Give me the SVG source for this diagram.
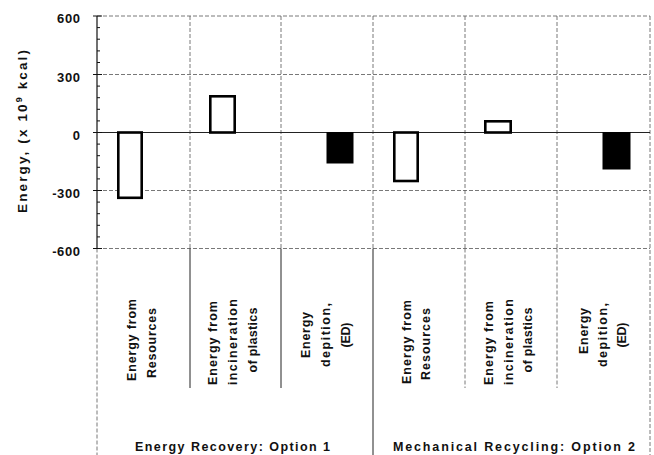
<svg xmlns="http://www.w3.org/2000/svg" width="654" height="455" viewBox="0 0 654 455">
<style>
  .bg{fill:#fff}
  .grid{stroke:#555;stroke-width:0.8;stroke-dasharray:4 2;fill:none}
  .solid{stroke:#222;stroke-width:1;fill:none}
  .axis{stroke:#111;stroke-width:1.2;fill:none}
  .tick{stroke:#111;stroke-width:1}
  .bar{fill:#fff;stroke:#000;stroke-width:2.6}
  .barf{fill:#000;stroke:#000;stroke-width:1}
  text{font-family:"Liberation Sans",Arial,sans-serif;fill:#111;font-weight:bold}
  .yl{font-size:13px;text-anchor:end;letter-spacing:0.6px}
  .cat{font-size:12.5px;text-anchor:middle}
  .grp{font-size:12.5px;text-anchor:middle}
</style>
<rect class="bg" x="0" y="0" width="654" height="455"/>

<g id="grid">
  <line class="grid" x1="97" y1="16" x2="650" y2="16"/>
  <line class="grid" x1="97" y1="74.5" x2="650" y2="74.5"/>
  <line class="grid" x1="97" y1="190.5" x2="650" y2="190.5"/>
  <line class="grid" x1="97" y1="248.5" x2="650" y2="248.5"/>
  <line class="grid" x1="190" y1="16" x2="190" y2="248.5"/>
  <line class="grid" x1="281" y1="16" x2="281" y2="248.5"/>
  <line class="grid" x1="373" y1="16" x2="373" y2="248.5"/>
  <line class="grid" x1="465" y1="16" x2="465" y2="248.5"/>
  <line class="grid" x1="557" y1="16" x2="557" y2="248.5"/>
  <line class="grid" x1="650" y1="16" x2="650" y2="455"/>
  <line class="grid" x1="97" y1="248.5" x2="97" y2="455"/>
</g>

<g id="table-lines">
  <line class="solid" x1="190" y1="248.5" x2="190" y2="388"/>
  <line class="solid" x1="281" y1="248.5" x2="281" y2="388"/>
  <line class="solid" x1="373" y1="248.5" x2="373" y2="455"/>
  <line class="grid" x1="465" y1="248.5" x2="465" y2="388"/>
  <line class="grid" x1="557" y1="248.5" x2="557" y2="388"/>
</g>

<g id="y-axis">
  <line class="axis" x1="97" y1="16" x2="97" y2="248.5"/>
  <line class="solid" x1="97" y1="132.5" x2="650" y2="132.5"/>
  <g class="tick">
    <line x1="93" y1="16" x2="102" y2="16"/>
    <line x1="93" y1="74.5" x2="102" y2="74.5"/>
    <line x1="93" y1="132.5" x2="102" y2="132.5"/>
    <line x1="93" y1="190.5" x2="102" y2="190.5"/>
    <line x1="93" y1="248.5" x2="102" y2="248.5"/>
    <line x1="97" y1="27.6" x2="100" y2="27.6"/>
    <line x1="97" y1="39.2" x2="100" y2="39.2"/>
    <line x1="97" y1="50.9" x2="100" y2="50.9"/>
    <line x1="97" y1="62.5" x2="100" y2="62.5"/>
    <line x1="97" y1="86.1" x2="100" y2="86.1"/>
    <line x1="97" y1="97.7" x2="100" y2="97.7"/>
    <line x1="97" y1="109.3" x2="100" y2="109.3"/>
    <line x1="97" y1="120.9" x2="100" y2="120.9"/>
    <line x1="97" y1="144.1" x2="100" y2="144.1"/>
    <line x1="97" y1="155.7" x2="100" y2="155.7"/>
    <line x1="97" y1="167.3" x2="100" y2="167.3"/>
    <line x1="97" y1="178.9" x2="100" y2="178.9"/>
    <line x1="97" y1="202.1" x2="100" y2="202.1"/>
    <line x1="97" y1="213.7" x2="100" y2="213.7"/>
    <line x1="97" y1="225.3" x2="100" y2="225.3"/>
    <line x1="97" y1="236.9" x2="100" y2="236.9"/>
  </g>
  <text class="yl" x="80.6" y="23">600</text>
  <text class="yl" x="80.6" y="81.5">300</text>
  <text class="yl" x="80.6" y="139.5">0</text>
  <text class="yl" x="80.6" y="197.5">-300</text>
  <text class="yl" x="80.6" y="255.5">-600</text>
  <text transform="translate(27,131.5) rotate(-90)" text-anchor="middle" font-size="13.5" textLength="163">Energy, (x 10<tspan font-size="9" dy="-5">9</tspan><tspan dy="5"> kcal)</tspan></text>
</g>

<g id="bars">
  <rect id="bar-er-resources" class="bar" x="118.3" y="132.5" width="23.4" height="65.3"/>
  <rect id="bar-er-incineration" class="bar" x="210.3" y="96.3" width="24.4" height="36.2"/>
  <rect id="bar-er-depletion" class="barf" x="327" y="132.5" width="26" height="30.5"/>
  <rect id="bar-mr-resources" class="bar" x="394.3" y="132.5" width="23.4" height="48.5"/>
  <rect id="bar-mr-incineration" class="bar" x="485.3" y="121.3" width="25.4" height="11.2"/>
  <rect id="bar-mr-depletion" class="barf" x="603" y="132.5" width="27" height="36.5"/>
</g>

<g id="cat-er-resources" class="cat">
  <text transform="translate(136,340) rotate(-90)" textLength="82">Energy from</text>
  <text transform="translate(155.5,343) rotate(-90)" textLength="70">Resources</text>
</g>
<g id="cat-er-incineration" class="cat">
  <text transform="translate(216.5,343) rotate(-90)" textLength="84">Energy from</text>
  <text transform="translate(236.5,342) rotate(-90)" textLength="86">incineration</text>
  <text transform="translate(256.5,340) rotate(-90)" textLength="65">of plastics</text>
</g>
<g id="cat-er-depletion" class="cat">
  <text transform="translate(310,335) rotate(-90)" textLength="46">Energy</text>
  <text transform="translate(330,335) rotate(-90)" textLength="64">depition,</text>
  <text transform="translate(350,335) rotate(-90)" textLength="25">(ED)</text>
</g>
<g id="cat-mr-resources" class="cat">
  <text transform="translate(410.5,342) rotate(-90)" textLength="84">Energy from</text>
  <text transform="translate(430,344) rotate(-90)" textLength="72">Resources</text>
</g>
<g id="cat-mr-incineration" class="cat">
  <text transform="translate(493,343) rotate(-90)" textLength="84">Energy from</text>
  <text transform="translate(512.5,342) rotate(-90)" textLength="86">incineration</text>
  <text transform="translate(532,340) rotate(-90)" textLength="65">of plastics</text>
</g>
<g id="cat-mr-depletion" class="cat">
  <text transform="translate(588,331) rotate(-90)" textLength="46">Energy</text>
  <text transform="translate(607,335) rotate(-90)" textLength="64">depition,</text>
  <text transform="translate(626,335) rotate(-90)" textLength="25">(ED)</text>
</g>

<g id="group-er">
  <text class="grp" x="232.5" y="451" textLength="195">Energy Recovery: Option 1</text>
</g>
<g id="group-mr">
  <text class="grp" x="514" y="451" textLength="242">Mechanical Recycling: Option 2</text>
</g>
</svg>
